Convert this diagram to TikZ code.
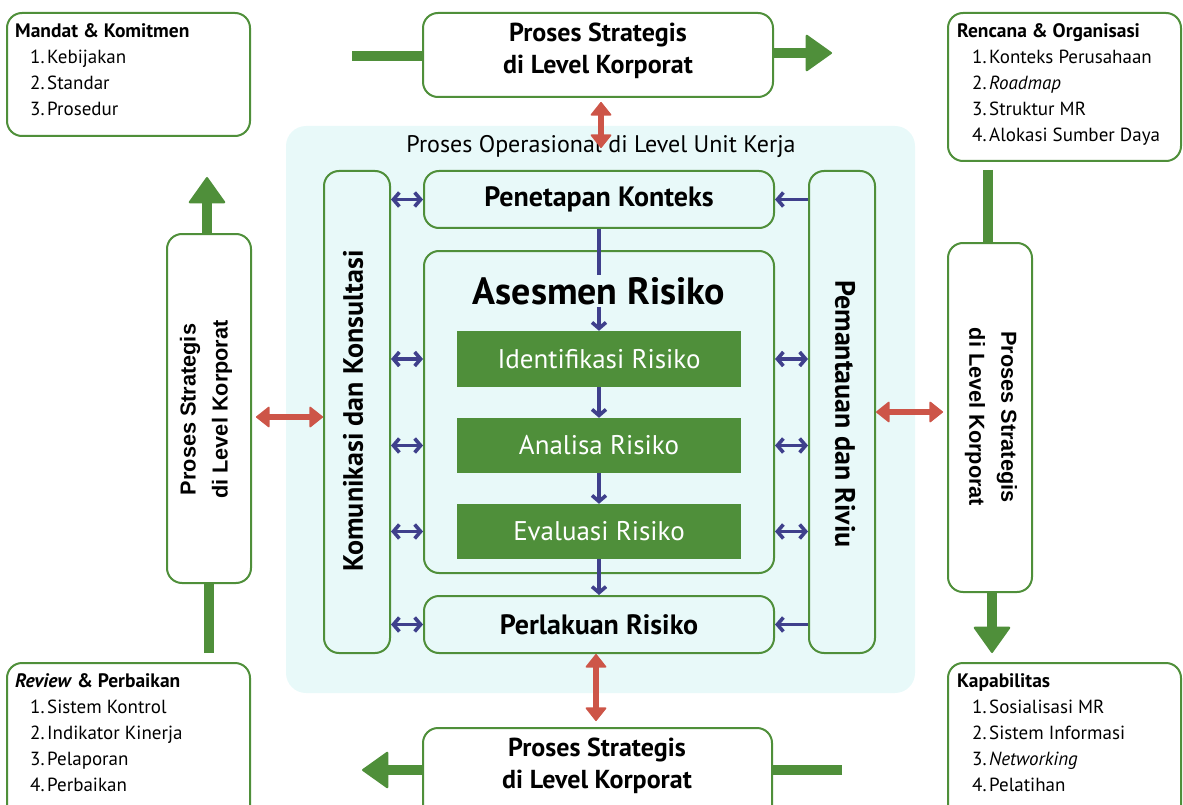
\documentclass[tikz,border=0pt]{standalone}
\usepackage{fontspec}
\setmainfont{PT Sans}
\newfontfamily\arialfont{Liberation Sans}
\usetikzlibrary{arrows.meta}
\definecolor{leaf}{HTML}{4F8F3A}
\definecolor{brick}{HTML}{CD5548}
\definecolor{navy}{HTML}{3F408C}
\definecolor{mint}{HTML}{E8F9F9}

\begin{document}
\begin{tikzpicture}[x=1pt,y=-1pt,
  box/.style={draw=leaf, line width=2pt, rounded corners=15pt, fill=white, inner sep=0pt},
  innerbox/.style={box, fill=mint},
  stepfill/.style={fill=leaf, inner sep=0pt, minimum width=284pt, text=white,
    font=\fontsize{27}{30}\selectfont},
  infotitle/.style={anchor=base west, inner sep=0pt, font=\bfseries\fontsize{19.5}{22}\selectfont},
  infoitem/.style={anchor=base west, inner sep=0pt, font=\fontsize{19}{22}\selectfont},
  corptext/.style={align=center, inner sep=0pt, font=\bfseries\fontsize{26}{32}\selectfont},
  sidetext/.style={align=center, inner sep=0pt, font=\arialfont\bfseries\fontsize{21.7}{32}\selectfont},
  midbold/.style={font=\bfseries\fontsize{28}{32}\selectfont},
  gline/.style={draw=leaf, line width=10pt},
  garrow/.style={gline, -{Triangle[width=38pt,length=27pt,round,line width=2pt]}},
  redboth/.style={draw=brick, line width=6pt,
    {Triangle[width=22pt,length=14pt,round,line width=1.5pt]}-{Triangle[width=22pt,length=14pt,round,line width=1.5pt]}},
  navyboth/.style={draw=navy, line width=3.6pt,
    {Straight Barb[length=6pt,width=14pt]}-{Straight Barb[length=6pt,width=14pt]}},
  navyto/.style={draw=navy, line width=3.6pt, -{Straight Barb[length=6pt,width=14pt]}}
]
\useasboundingbox (0,0) rectangle (1183,805);

% ---------- operational area ----------
\node[fill=mint, rounded corners=20pt, minimum width=629pt, minimum height=567pt, inner sep=0pt]
  (ops) at (600.5,409.5) {};
\node[inner sep=0pt, font=\fontsize{24}{28}\selectfont] (opstitle) at (601,147)
  {Proses Operasional di Level Unit Kerja};

\node[innerbox, minimum width=66pt, minimum height=482pt] (komun) at (357,412) {};
\node[innerbox, minimum width=66pt, minimum height=482pt] (pemant) at (842,412) {};
\node[rotate=90, inner sep=0pt, midbold] (komuntxt) at (353,411)
  {Komunikasi dan Konsultasi};
\node[rotate=-90, inner sep=0pt, midbold] (pemanttxt) at (845,414)
  {Pemantauan dan Riviu};

\node[innerbox, minimum width=350pt, minimum height=57pt, midbold]
  (penet) at (599,199.5) {Penetapan Konteks};
\node[innerbox, minimum width=350pt, minimum height=322pt] (asesmen) at (599,412) {};
\node[innerbox, minimum width=350pt, minimum height=57pt, midbold]
  (perlak) at (599,624.5) {Perlakuan Risiko};

\node[stepfill, minimum height=56pt] (ident) at (599,359) {Identifikasi Risiko};
\node[stepfill, minimum height=55pt] (anal) at (599,445.5) {Analisa Risiko};
\node[stepfill, minimum height=55pt] (eval) at (599,531.5) {Evaluasi Risiko};

% flow through the assessment
\draw[navyto] (penet.south) -- (ident.north);
\draw[navyto] (ident.south) -- (anal.north);
\draw[navyto] (anal.south) -- (eval.north);
\draw[navyto] (eval.south) -- (perlak.north);
\node[fill=mint, inner sep=2pt, font=\bfseries\fontsize{38}{40}\selectfont] (asestitle) at (599,291)
  {Asesmen Risiko};

% communication links
\draw[navyboth] (komun.east |- penet.west) -- (penet.west);
\draw[navyboth] (komun.east |- ident) -- (asesmen.west |- ident);
\draw[navyboth] (komun.east |- anal) -- (asesmen.west |- anal);
\draw[navyboth] (komun.east |- eval) -- (asesmen.west |- eval);
\draw[navyboth] (komun.east |- perlak.west) -- (perlak.west);
% monitoring links
\draw[navyto] (pemant.west |- penet.east) -- (penet.east);
\draw[navyboth] (asesmen.east |- ident) -- (pemant.west |- ident);
\draw[navyboth] (asesmen.east |- anal) -- (pemant.west |- anal);
\draw[navyboth] (asesmen.east |- eval) -- (pemant.west |- eval);
\draw[navyto] (pemant.west |- perlak.east) -- (perlak.east);

% ---------- corporate level boxes ----------
\node[box, minimum width=350pt, minimum height=84pt] (topmid) at (598,55) {};
\node[corptext] (topmidtxt) at (598,51) {Proses Strategis\\di Level Korporat};
\node[box, minimum width=349pt, minimum height=102pt] (botmid) at (597.5,779) {};
\node[corptext] (botmidtxt) at (597,766) {Proses Strategis\\di Level Korporat};
\node[box, minimum width=84pt, minimum height=349pt] (leftv) at (209,408.5) {};
\node[sidetext, rotate=90] (leftvtxt) at (206,409.5) {Proses Strategis\\di Level Korporat};
\node[box, minimum width=84pt, minimum height=349pt] (rightv) at (990,417.5) {};
\node[sidetext, rotate=-90] (rightvtxt) at (991,417) {Proses Strategis\\di Level Korporat};

% ---------- corner boxes ----------
\node[box, minimum width=243pt, minimum height=123pt] (mandat) at (128.5,74.5) {};
\node[infotitle] (mandat-t) at (15,37.5) {Mandat \& Komitmen};
\foreach \i/\t in {1/Kebijakan,2/Standar,3/Prosedur}
  \node[infoitem] (mandat-\i) at (30,37.5+26*\i) {\makebox[17pt][l]{\i.}\t};

\node[box, minimum width=233pt, minimum height=148pt] (rencana) at (1064.5,87) {};
\node[infotitle] (rencana-t) at (957,37.5) {Rencana \& Organisasi};
\foreach \i/\t in {1/Konteks Perusahaan,2/\textit{Roadmap},3/Struktur MR,4/Alokasi Sumber Daya}
  \node[infoitem] (rencana-\i) at (972,37.5+26*\i) {\makebox[17pt][l]{\i.}\t};

\node[box, minimum width=243pt, minimum height=167pt] (review) at (128.5,746.5) {};
\node[infotitle] (review-t) at (15,687.5) {\textit{Review} \& Perbaikan};
\foreach \i/\t in {1/Sistem Kontrol,2/Indikator Kinerja,3/Pelaporan,4/Perbaikan}
  \node[infoitem] (review-\i) at (30,687.5+26*\i) {\makebox[17pt][l]{\i.}\t};

\node[box, minimum width=233pt, minimum height=167pt] (kapab) at (1064.5,746.5) {};
\node[infotitle] (kapab-t) at (957,687.5) {Kapabilitas};
\foreach \i/\t in {1/Sosialisasi MR,2/Sistem Informasi,3/\textit{Networking},4/Pelatihan}
  \node[infoitem] (kapab-\i) at (972,687.5+26*\i) {\makebox[17pt][l]{\i.}\t};

% ---------- strategic cycle (green) ----------
\coordinate (g1) at (352,56);
\draw[gline] (g1) -- (g1 -| topmid.west);
\coordinate (g2) at (832,53);
\draw[garrow] (topmid.east |- g2) -- (g2);
\coordinate (g3) at (988,170);
\draw[gline] (g3) -- (g3 |- rightv.north);
\coordinate (g4) at (992,653);
\draw[garrow] (g4 |- rightv.south) -- (g4);
\coordinate (g5) at (842,770);
\draw[gline] (g5) -- (g5 -| botmid.east);
\coordinate (g6) at (362,770);
\draw[garrow] (botmid.west |- g6) -- (g6);
\coordinate (g7) at (209,653);
\draw[gline] (g7) -- (g7 |- leftv.south);
\coordinate (g8) at (207,177);
\draw[garrow] (g8 |- leftv.north) -- (g8);

% ---------- links between levels (red) ----------
\coordinate (redtop) at (601,148);
\draw[redboth, shorten <=4pt] (topmid.south -| redtop) -- (redtop);
\coordinate (redbot) at (596,690);
\draw[redboth, shorten >=6pt] (perlak.south -| redbot) -- (botmid.north -| redbot);
\coordinate (redleft) at (290,417);
\draw[redboth, shorten <=4pt] (leftv.east |- redleft) -- (komun.west |- redleft);
\coordinate (redright) at (910,412);
\draw[redboth, shorten >=4pt] (pemant.east |- redright) -- (rightv.west |- redright);
\end{tikzpicture}
\end{document}
